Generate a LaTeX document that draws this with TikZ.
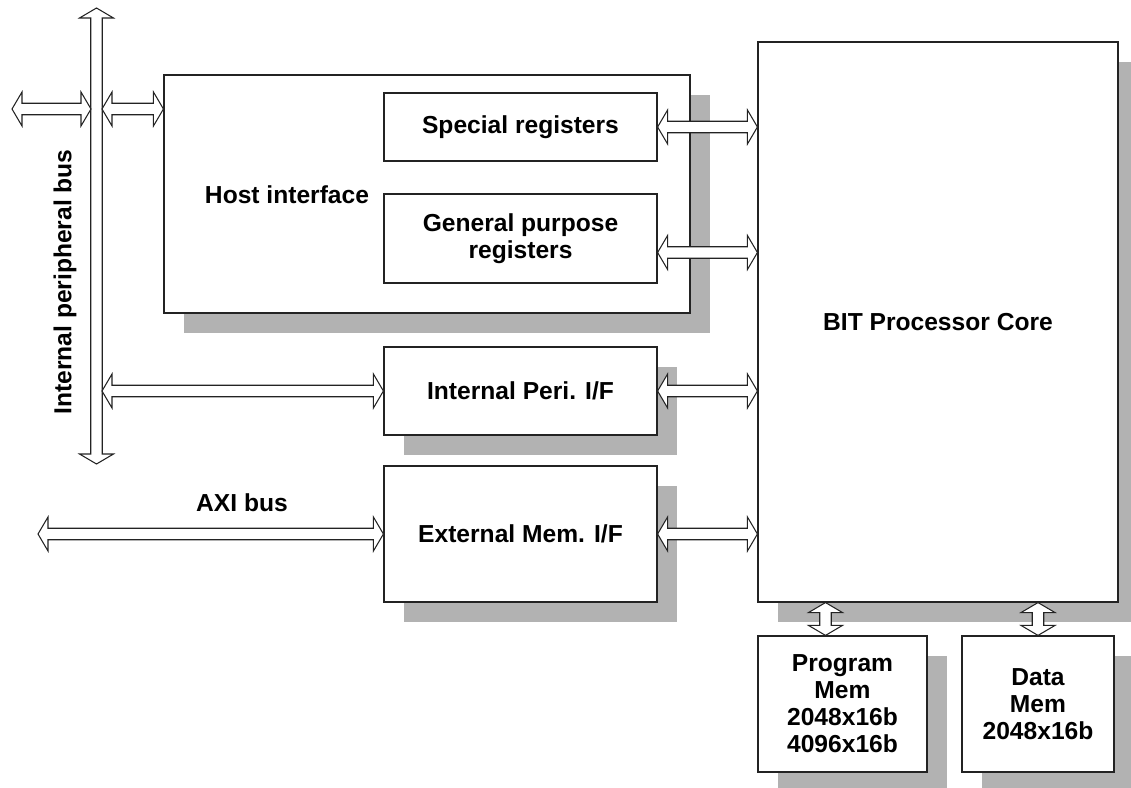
\documentclass[tikz,border=0pt]{standalone}
\usepackage{fontspec}
\setmainfont{Liberation Sans}
\usepackage{xcolor}
\definecolor{shadowgray}{RGB}{178, 178, 178}
\definecolor{linegray}{RGB}{35, 35, 35}
\usepackage{tikz}
\usetikzlibrary{calc, shadows}

\newcommand{\arrlen}{0.2cm}
\newcommand{\arrhead}{0.34cm}
\newcommand{\arrshaft}{0.115cm}
\newcommand{\hbus}[2]{\draw[busline] let \p1=#1, \p2=#2 in
    (\x1,\y1) -- (\x1+\arrlen,\y1+\arrhead) -- (\x1+\arrlen,\y1+\arrshaft) -- (\x2-\arrlen,\y1+\arrshaft) -- (\x2-\arrlen,\y1+\arrhead) -- (\x2,\y1)
    -- (\x2-\arrlen,\y1-\arrhead) -- (\x2-\arrlen,\y1-\arrshaft) -- (\x1+\arrlen,\y1-\arrshaft) -- (\x1+\arrlen,\y1-\arrhead) -- cycle;}
\newcommand{\vbus}[2]{\draw[busline] let \p1=#1, \p2=#2 in
    (\x1,\y1) -- (\x1+\arrhead,\y1-\arrlen) -- (\x1+\arrshaft,\y1-\arrlen) -- (\x1+\arrshaft,\y2+\arrlen) -- (\x1+\arrhead,\y2+\arrlen) -- (\x1,\y2)
    -- (\x1-\arrhead,\y2+\arrlen) -- (\x1-\arrshaft,\y2+\arrlen) -- (\x1-\arrshaft,\y1-\arrlen) -- (\x1-\arrhead,\y1-\arrlen) -- cycle;}

\begin{document}
\begin{tikzpicture}[x=0.02cm, y=-0.02cm,
    lbl/.style={font=\bfseries\fontsize{14}{15.4}\selectfont, align=center},
    reg/.style={lbl, draw=linegray, line width=0.7pt, fill=white, inner sep=0pt},
    blk/.style={reg, drop shadow={shadow xshift=0.4cm, shadow yshift=-0.4cm, draw=none, fill=shadowgray, opacity=1}},
    busline/.style={draw=linegray, line width=0.6pt, fill=white, line join=miter}]
    \useasboundingbox (0,0) rectangle (1131,787);
    \node[blk, minimum width=10.52cm, minimum height=4.76cm] (host) at (427,194) {};
    \node[lbl] (hosttxt) at (287,195) {Host interface};
    \node[reg, minimum width=5.46cm, minimum height=1.36cm] (spec) at (520.5,127) {Special registers};
    \node[reg, minimum width=5.46cm, minimum height=1.78cm] (gp) at (520.5,238.5) {General purpose\\registers};
    \node[blk, minimum width=5.46cm, minimum height=1.76cm] (iperi) at (520.5,391) {Internal Peri. I/F};
    \node[blk, minimum width=5.46cm, minimum height=2.72cm] (emem) at (520.5,534) {External Mem. I/F};
    \node[blk, minimum width=7.2cm, minimum height=11.2cm] (core) at (938,322) {BIT Processor Core};
    \node[blk, minimum width=3.38cm, minimum height=2.72cm] (pmem) at (842.5,704) {Program\\Mem\\2048x16b\\4096x16b};
    \node[blk, minimum width=3.04cm, minimum height=2.72cm] (dmem) at (1038,704) {Data\\Mem\\2048x16b};

    \coordinate (bustop) at (96.5,8);
    \coordinate (busbot) at (96.5,464);
    \coordinate (hostext) at (12,109);
    \coordinate (buswest) at (91,109);
    \coordinate (buseast) at (102,109);
    \coordinate (busperi) at (102,391);
    \coordinate (axi) at (38,534);
    \coordinate (gpport) at ($(gp.east)+(0,14)$);
    \coordinate (pport) at ($(pmem.north)+(-17,0)$);

    \vbus{(bustop)}{(busbot)}
    \hbus{(hostext)}{(buswest)}
    \hbus{(buseast)}{(host.west |- buseast)}
    \hbus{(busperi)}{(iperi.west)}
    \hbus{(axi)}{(emem.west)}
    \hbus{(spec.east)}{(core.west |- spec.east)}
    \hbus{(gpport)}{(core.west |- gpport)}
    \hbus{(iperi.east)}{(core.west |- iperi.east)}
    \hbus{(emem.east)}{(core.west |- emem.east)}
    \vbus{(core.south -| pport)}{(pport)}
    \vbus{(core.south -| dmem.north)}{(dmem.north)}

    \node[lbl, rotate=90] (buslbl) at (65,282) {Internal peripheral bus};
    \node[lbl] (axilbl) at (242,503) {AXI bus};
\end{tikzpicture}
\end{document}
